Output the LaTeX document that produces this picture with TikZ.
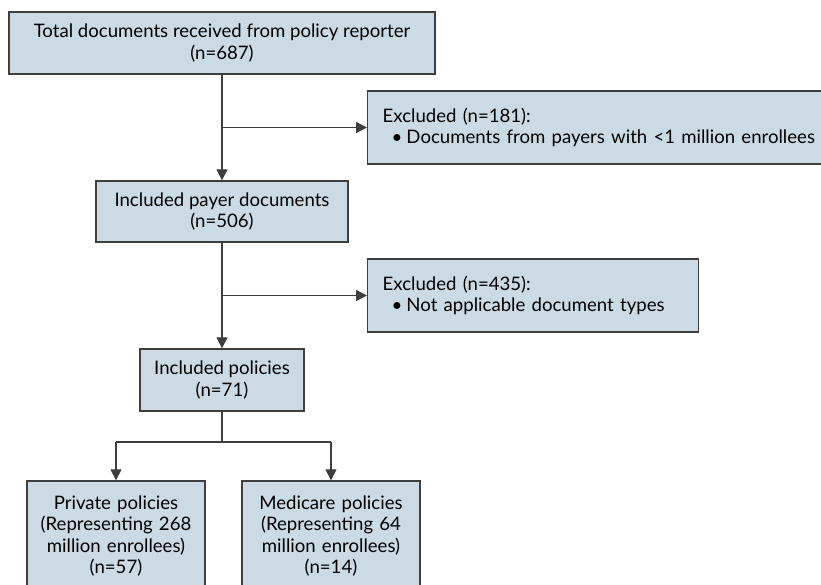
\documentclass[tikz,border=0pt]{standalone}
\usepackage{fontspec}
\setmainfont{Lato}
\usetikzlibrary{arrows.meta}
\definecolor{boxfill}{RGB}{204,218,228}
\definecolor{boxline}{RGB}{62,62,62}

\begin{document}
\begin{tikzpicture}[x=1pt,y=-1pt,
  box/.style={draw=boxline,fill=boxfill,line width=1.4pt,align=center,inner sep=0pt,
    font=\fontsize{18.6}{21.5}\selectfont},
  exbox/.style={box,align=left,anchor=west,inner xsep=15pt,minimum height=73pt},
  link/.style={draw=boxline,line width=1.3pt},
  flow/.style={link,-{Triangle[length=11pt,width=11pt]}}]
  \useasboundingbox (0,0) rectangle (821,584);
  \clip (0,0) rectangle (821,584);
  % main column
  \node[box,minimum width=426pt,minimum height=62pt] (total) at (222,43)
    {Total documents received from policy reporter\\(n=687)};
  \node[box,minimum width=252pt,minimum height=61pt] (payer) at (222,211.5)
    {Included payer documents\\(n=506)};
  \node[box,minimum width=164pt,minimum height=62pt] (policies) at (222,380)
    {Included policies\\(n=71)};
  % exclusions
  \node[exbox,text width=440pt] (excl1) at (367,127.5)
    {Excluded (n=181):\\\hspace*{9pt}•\hspace{4pt}Documents from payers with <1 million enrollees};
  \node[exbox,text width=301pt] (excl2) at (367,295.5)
    {Excluded (n=435):\\\hspace*{9pt}•\hspace{4pt}Not applicable document types};
  % split
  \node[box,text width=170pt,inner xsep=4pt,minimum height=110pt] (private) at (116,536)
    {Private policies\\(Representing 268\\million enrollees)\\(n=57)};
  \node[box,text width=170pt,inner xsep=4pt,minimum height=110pt] (medicare) at (331,536)
    {Medicare policies\\(Representing 64\\million enrollees)\\(n=14)};
  \coordinate (fork) at (222,442);

  \draw[flow] (total) -- (payer);
  \draw[flow] (total.south |- excl1.west) -- (excl1.west);
  \draw[flow] (payer) -- (policies);
  \draw[flow] (payer.south |- excl2.west) -- (excl2.west);
  \draw[link] (policies) -- (fork);
  \draw[link] (private.north |- fork) -- (medicare.north |- fork);
  \draw[flow] (private.north |- fork) -- (private.north);
  \draw[flow] (medicare.north |- fork) -- (medicare.north);
\end{tikzpicture}
\end{document}
